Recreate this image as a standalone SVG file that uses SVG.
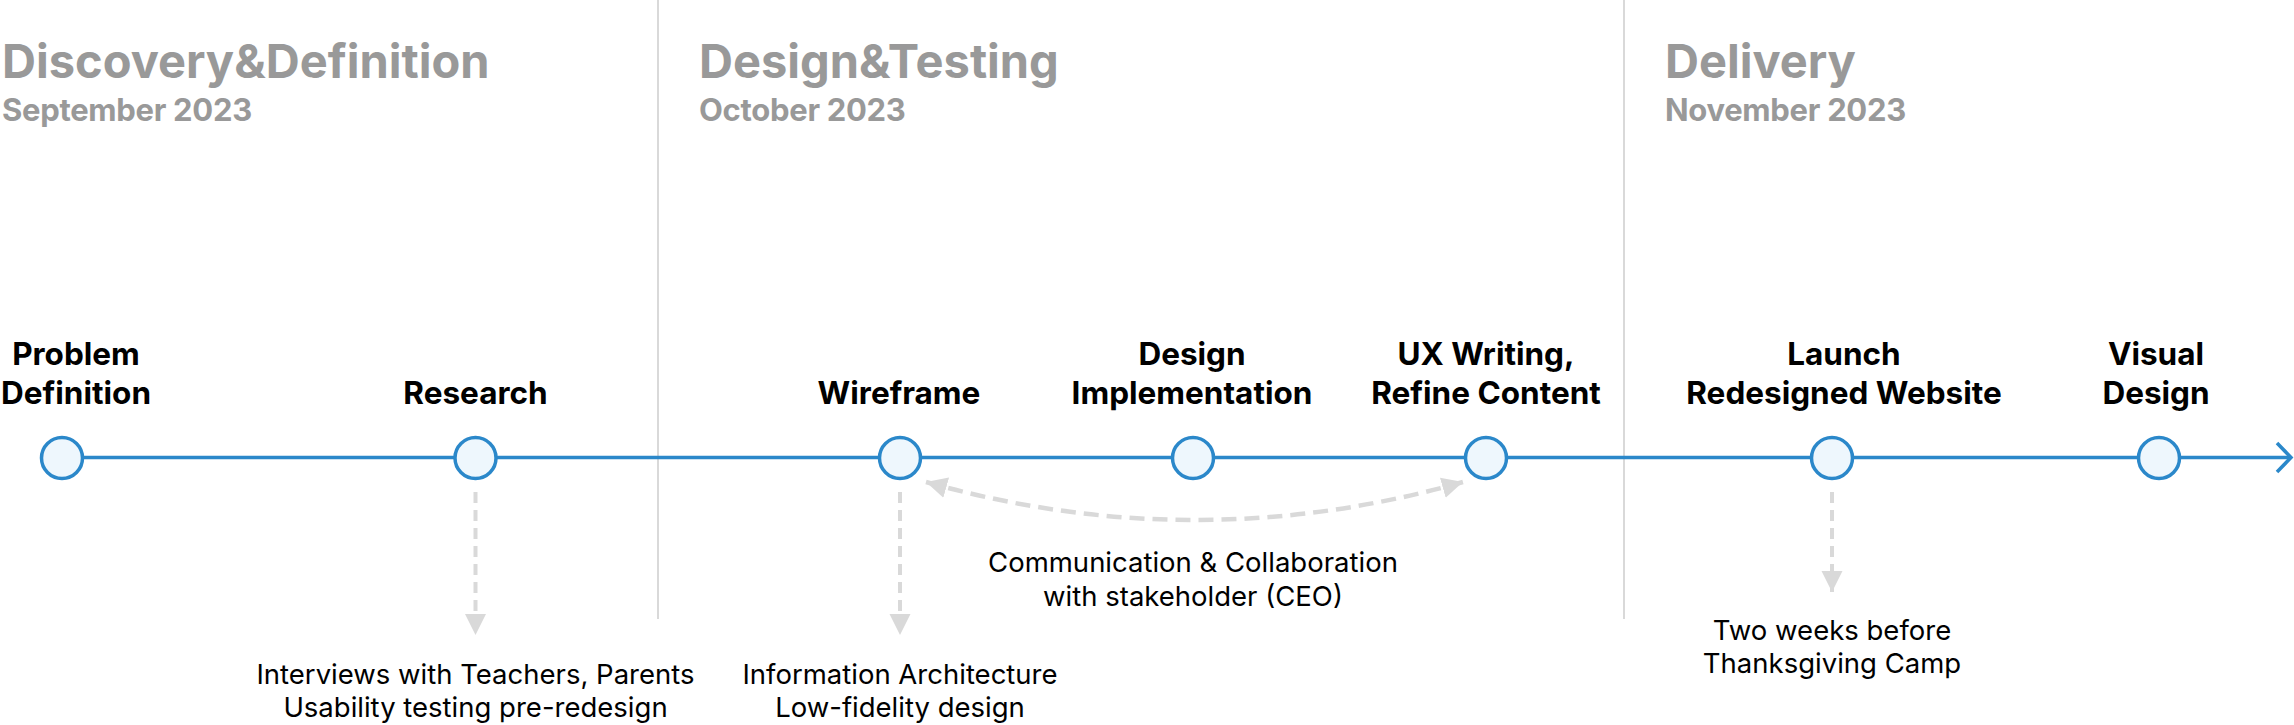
<svg xmlns="http://www.w3.org/2000/svg" width="2294" height="725" viewBox="0 0 2294 725">
<style>
.hd{font-family:Inter,"Liberation Sans",sans-serif;font-weight:700;fill:#999999;font-size:47px}
.sub{font-family:Inter,"Liberation Sans",sans-serif;font-weight:700;fill:#999999;font-size:31px;letter-spacing:-0.3px}
.lbl{font-family:Inter,"Liberation Sans",sans-serif;font-weight:700;fill:#000;font-size:31.5px;text-anchor:middle}
.note{font-family:Inter,"Liberation Sans",sans-serif;font-weight:400;fill:#000;font-size:27.5px;text-anchor:middle}
.sep{stroke:#d9d9d9;stroke-width:2;fill:none}
.tl{stroke:#2b88ca;stroke-width:3.5;fill:none}
.dot{fill:#eef7fd;stroke:#2b88ca;stroke-width:3.5}
.dash{stroke:#d9d9d9;stroke-width:4;fill:none;stroke-dasharray:11 7}
.curve{stroke:#d9d9d9;stroke-width:4.5;fill:none;stroke-dasharray:15 8}
</style>
<defs>
<marker id="ah" markerUnits="userSpaceOnUse" markerWidth="22" markerHeight="22" refX="21" refY="10.5" orient="auto-start-reverse" viewBox="0 0 22 22">
<path d="M0,0 L21,10.5 L0,21 z" fill="#d9d9d9"/>
</marker>
</defs>
<rect width="2294" height="725" fill="#ffffff"/>
<g id="separators">
<line class="sep" x1="658" y1="0" x2="658" y2="619"/>
<line class="sep" x1="1624" y1="0" x2="1624" y2="619"/>
</g>
<g id="phase-discovery">
<text class="hd" x="2" y="78">Discovery&amp;Definition</text>
<text class="sub" x="2" y="121">September 2023</text>
</g>
<g id="phase-design">
<text class="hd" x="699" y="78">Design&amp;Testing</text>
<text class="sub" x="699" y="121">October 2023</text>
</g>
<g id="phase-delivery">
<text class="hd" x="1665" y="78">Delivery</text>
<text class="sub" x="1665" y="121">November 2023</text>
</g>
<g id="connectors">
<line class="tl" x1="62" y1="457.5" x2="2291" y2="457.5"/>
<path class="tl" d="M2277,443 L2291,457.5 L2277,472"/>
<line class="dash" x1="475.5" y1="492" x2="475.5" y2="635" marker-end="url(#ah)"/>
<line class="dash" x1="900" y1="492" x2="900" y2="635" marker-end="url(#ah)"/>
<line class="dash" x1="1832" y1="492" x2="1832" y2="592" marker-end="url(#ah)"/>
<path class="curve" d="M926,482 Q1195,558 1463,482" marker-start="url(#ah)" marker-end="url(#ah)"/>
</g>
<g id="node-problem">
<circle class="dot" cx="62" cy="458" r="20.5"/>
<text class="lbl" x="76" y="365">Problem</text>
<text class="lbl" x="76" y="404">Definition</text>
</g>
<g id="node-research">
<circle class="dot" cx="475.5" cy="458" r="20.5"/>
<text class="lbl" x="475.5" y="404">Research</text>
</g>
<g id="node-wireframe">
<circle class="dot" cx="900" cy="458" r="20.5"/>
<text class="lbl" x="899" y="404">Wireframe</text>
</g>
<g id="node-implementation">
<circle class="dot" cx="1193" cy="458" r="20.5"/>
<text class="lbl" x="1192" y="365">Design</text>
<text class="lbl" x="1192" y="404">Implementation</text>
</g>
<g id="node-uxwriting">
<circle class="dot" cx="1486" cy="458" r="20.5"/>
<text class="lbl" x="1486" y="365">UX Writing,</text>
<text class="lbl" x="1486" y="404">Refine Content</text>
</g>
<g id="node-launch">
<circle class="dot" cx="1832" cy="458" r="20.5"/>
<text class="lbl" x="1844" y="365">Launch</text>
<text class="lbl" x="1844" y="404">Redesigned Website</text>
</g>
<g id="node-visual">
<circle class="dot" cx="2159" cy="458" r="20.5"/>
<text class="lbl" x="2156" y="365">Visual</text>
<text class="lbl" x="2156" y="404">Design</text>
</g>
<g id="note-research">
<text class="note" x="475.5" y="684">Interviews with Teachers, Parents</text>
<text class="note" x="475.5" y="717">Usability testing pre-redesign</text>
</g>
<g id="note-wireframe">
<text class="note" x="900" y="684">Information Architecture</text>
<text class="note" x="900" y="717">Low-fidelity design</text>
</g>
<g id="note-collab">
<text class="note" x="1193" y="572">Communication &amp; Collaboration</text>
<text class="note" x="1193" y="606">with stakeholder (CEO)</text>
</g>
<g id="note-launch">
<text class="note" x="1832" y="640">Two weeks before</text>
<text class="note" x="1832" y="673">Thanksgiving Camp</text>
</g>
</svg>
